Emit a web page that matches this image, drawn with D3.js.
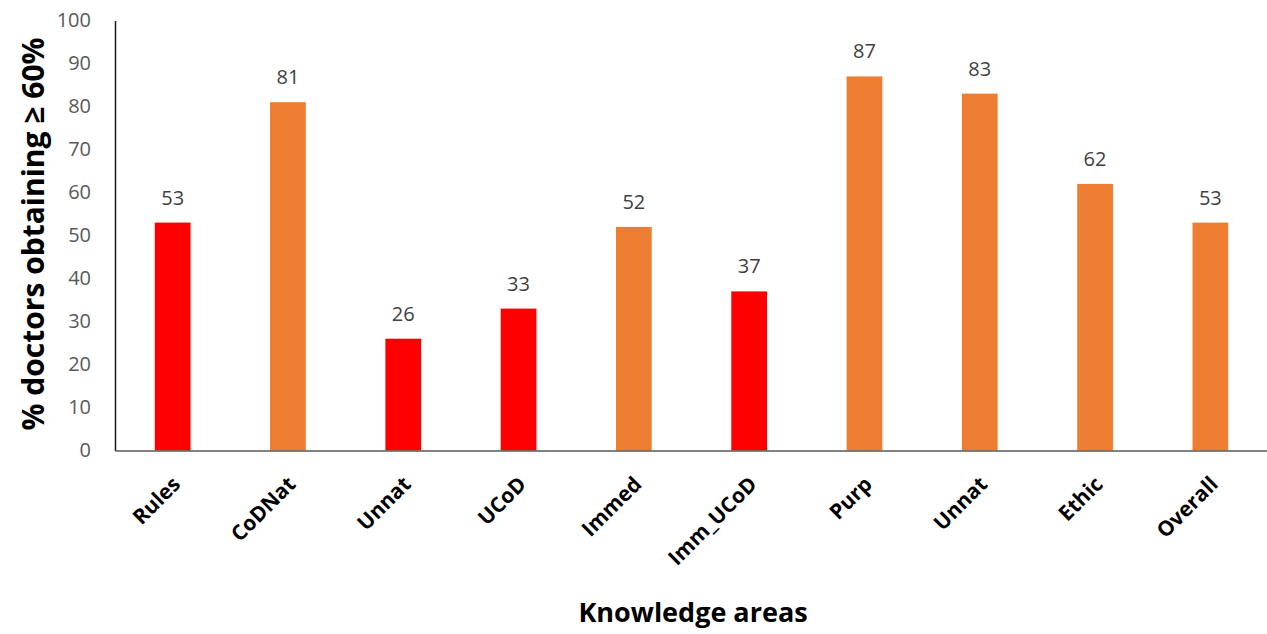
<!DOCTYPE html>
<html>
<head>
<meta charset="utf-8">
<script src="https://cdn.jsdelivr.net/npm/d3@7"></script>
<style>
  html, body { margin: 0; padding: 0; background: #ffffff; }
  svg { display: block; }
</style>
</head>
<body>
<div id="chart"></div>
<script>
// Knowledge areas and the share of doctors scoring at least 60% in each
const categories = ["Rules", "CoDNat", "Unnat", "UCoD", "Immed", "Imm_UCoD", "Purp", "Unnat", "Ethic", "Overall"];
const values = [53, 81, 26, 33, 52, 37, 87, 83, 62, 53];
// Areas below half of doctors are flagged in red
const flagged = [true, false, true, true, false, true, false, false, false, false];
const yTicks = [0, 10, 20, 30, 40, 50, 60, 70, 80, 90, 100];

const width = 1267, height = 634;
const margin = { left: 115, right: -1, top: 20.5, bottom: 183.5 };

const svg = d3.select("#chart").append("svg")
  .attr("width", width)
  .attr("height", height);

const keys = categories.map((c, i) => i);

const x = d3.scaleBand()
  .domain(keys)
  .range([margin.left, width - margin.right])
  .paddingInner(0.69)
  .paddingOuter(0.345);

const y = d3.scaleLinear()
  .domain([0, 100])
  .range([height - margin.bottom, margin.top]);

// Bars
svg.append("g")
  .selectAll("rect")
  .data(values)
  .join("rect")
  .attr("x", (d, i) => x(i))
  .attr("y", d => y(d))
  .attr("width", x.bandwidth())
  .attr("height", d => y(0) - y(d))
  .attr("fill", (d, i) => flagged[i] ? "#ff0000" : "#ed7d31");

// Value labels above bars
svg.append("g")
  .selectAll("text")
  .data(values)
  .join("text")
  .attr("x", (d, i) => x(i) + x.bandwidth() / 2)
  .attr("y", d => y(d) - 18)
  .attr("text-anchor", "middle")
  .attr("font-family", "'Open Sans', sans-serif")
  .attr("font-size", 20)
  .attr("fill", "#404040")
  .text(d => d);

// Y axis
const yAxis = svg.append("g")
  .attr("transform", `translate(${margin.left},0)`)
  .call(d3.axisLeft(y).tickValues(yTicks).tickSize(0).tickPadding(24));
yAxis.select(".domain").attr("stroke", "#1a1a1a").attr("stroke-width", 1.5);
yAxis.selectAll("text")
  .attr("font-family", "'Open Sans', sans-serif")
  .attr("font-size", 20)
  .attr("fill", "#595959");

// X axis
const xAxis = svg.append("g")
  .attr("transform", `translate(0,${y(0)})`)
  .call(d3.axisBottom(x).tickSize(0).tickFormat(i => categories[i]));
xAxis.select(".domain").attr("stroke", "#595959").attr("stroke-width", 1.5);
xAxis.selectAll("text")
  .attr("font-family", "'Open Sans', sans-serif")
  .attr("font-weight", "bold")
  .attr("font-size", 21)
  .attr("fill", "#000000")
  .attr("text-anchor", "end")
  .attr("dy", null)
  .attr("y", 0)
  .attr("transform", "translate(9,35) rotate(-45)");

// Axis titles
svg.append("text")
  .attr("x", 693)
  .attr("y", 622)
  .attr("text-anchor", "middle")
  .attr("font-family", "'Open Sans', sans-serif")
  .attr("font-weight", "bold")
  .attr("font-size", 27)
  .attr("fill", "#000000")
  .text("Knowledge areas");

svg.append("text")
  .attr("transform", "translate(44,234) rotate(-90)")
  .attr("text-anchor", "middle")
  .attr("font-family", "'Open Sans', sans-serif")
  .attr("font-weight", "bold")
  .attr("font-size", 30)
  .attr("fill", "#000000")
  .text("% doctors obtaining \u2265 60%");
</script>
</body>
</html>
